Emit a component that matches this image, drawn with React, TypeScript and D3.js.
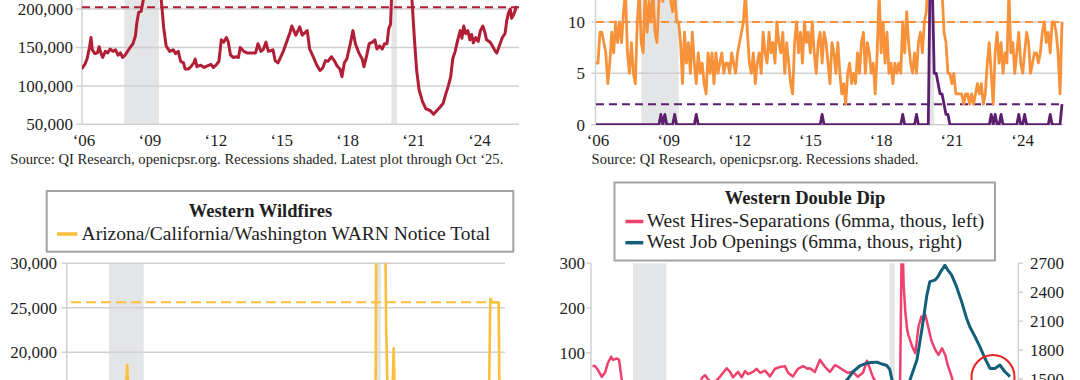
import React from "react";
import * as d3 from "d3";

const FONT = "'Liberation Serif', 'Times New Roman', serif";

// ---------- shared ----------
const recessions: [number, number][] = [[2007.92, 2009.5], [2020.08, 2020.33]];
const tickYears = [2006, 2009, 2012, 2015, 2018, 2021, 2024];

// ---------- panel 1 (top-left): West WARN notices, thousands ----------
const warnWest: [number, number][] = [
  [2006.00,123],[2006.13,128],[2006.23,135],[2006.34,150],[2006.41,163],[2006.47,147],[2006.59,142],[2006.70,143],[2006.78,151],[2006.86,143],[2006.94,137],[2007.06,145],[2007.17,143],[2007.28,148],[2007.41,145],[2007.53,147],[2007.64,140],[2007.75,143],[2007.85,137],[2007.96,140],[2008.07,145],[2008.19,150],[2008.32,155],[2008.43,165],[2008.50,183],[2008.58,196],[2008.69,197],[2008.79,212],[2008.90,230],[2009.05,250],[2009.21,262],[2009.36,258],[2009.52,235],[2009.63,205],[2009.72,175],[2009.83,152],[2009.99,145],[2010.15,147],[2010.26,142],[2010.38,145],[2010.49,132],[2010.62,130],[2010.69,122],[2010.85,122],[2010.98,126],[2011.09,130],[2011.15,135],[2011.23,125],[2011.40,127],[2011.56,124],[2011.71,126],[2011.87,128],[2011.98,124],[2012.10,127],[2012.23,132],[2012.34,160],[2012.45,157],[2012.57,163],[2012.65,158],[2012.76,140],[2012.89,137],[2013.01,138],[2013.12,137],[2013.20,150],[2013.36,145],[2013.51,143],[2013.75,143],[2013.90,143],[2014.01,155],[2014.14,145],[2014.26,148],[2014.37,157],[2014.48,145],[2014.69,147],[2014.79,133],[2014.92,130],[2015.16,145],[2015.31,157],[2015.47,170],[2015.55,178],[2015.67,170],[2015.73,166],[2015.91,177],[2016.02,166],[2016.25,172],[2016.36,148],[2016.49,140],[2016.67,128],[2016.83,120],[2016.95,123],[2017.08,133],[2017.19,132],[2017.35,138],[2017.50,132],[2017.61,126],[2017.74,122],[2017.83,112],[2017.94,130],[2018.05,135],[2018.21,155],[2018.33,172],[2018.44,155],[2018.60,143],[2018.75,135],[2018.83,125],[2018.96,140],[2019.07,155],[2019.22,157],[2019.33,160],[2019.42,148],[2019.54,152],[2019.66,148],[2019.77,155],[2019.88,155],[2019.96,175],[2020.04,180],[2020.12,240],[2020.24,330],[2020.40,420],[2020.60,380],[2020.80,300],[2020.95,260],[2021.02,210],[2021.13,160],[2021.23,120],[2021.34,95],[2021.49,80],[2021.65,70],[2021.84,68],[2022.00,63],[2022.12,67],[2022.28,72],[2022.43,77],[2022.54,88],[2022.67,100],[2022.78,112],[2022.87,135],[2022.98,145],[2023.10,160],[2023.21,172],[2023.29,162],[2023.37,178],[2023.46,168],[2023.56,172],[2023.65,160],[2023.73,167],[2023.81,156],[2023.92,163],[2024.03,158],[2024.13,172],[2024.24,178],[2024.33,170],[2024.41,160],[2024.57,157],[2024.68,152],[2024.81,145],[2024.88,143],[2024.99,152],[2025.13,163],[2025.25,168],[2025.33,185],[2025.41,195],[2025.49,200],[2025.55,188],[2025.63,192],[2025.71,198],[2025.75,202.5]
];
const warnWestLatest = 202.5;
const warnTicks = [50, 100, 150, 200];

// ---------- panel 2 (top-right): monthly counts Jan 2006 - Oct 2025 ----------
const orangeCounts = [
  6,6,9,9,8,7,4,6,9,7,10,8,10,8,11,13,7,5,8,5,
  4,10,13,8,7,13,9,12,10,13,9,8,12,14,12,14,13,15,12,11,
  13,10,10,8,4,9,6,8,5,9,6,4,7,5,6,4,3,7,5,7,
  4,7,5,6,7,5,6,6,5,7,6,5,7,8,9,10,13,9,6,5,
  7,4,6,7,5,9,7,6,9,7,8,6,10,8,7,9,5,8,6,4,
  3,8,10,7,9,6,10,8,9,7,10,7,5,8,9,6,9,8,6,4,
  8,7,5,8,5,3,4,2,5,6,4,5,4,7,5,8,9,5,8,7,
  5,6,3,7,13,7,10,6,9,5,6,4,6,5,6,5,10,7,11,8,
  6,5,7,5,8,9,7,10,11,15,18,20,17,15,14,13,13,9,8,5,
  5,4,5,3,3,3,3,2,3,3,2,3,2,3,4,3,4,2,3,6,
  8,5,2,7,9,6,8,5,7,6,13,7,8,5,7,9,6,5,7,9,
  8,5,6,7,7,6,7,9,10,8,9,7,10,10,9,7,3,10
];
const purpleCounts = [
  0,0,0,0,0,0,0,0,0,0,0,0,0,0,0,0,0,0,0,0,
  0,0,0,0,0,0,0,0,0,0,0,0,0,1,0,1,0,0,0,0,
  1,0,0,0,0,0,0,0,0,0,0,1,0,0,0,0,0,0,0,0,
  0,0,0,0,0,0,0,0,0,0,0,0,0,0,0,0,0,0,0,0,
  0,0,0,0,0,0,0,0,0,0,0,0,0,0,0,0,0,0,0,0,
  0,0,0,0,0,0,0,0,0,0,0,0,0,0,0,1,0,0,0,0,
  0,0,0,0,0,0,0,0,0,0,0,0,0,0,0,0,0,0,0,0,
  0,0,0,0,0,0,0,0,0,0,0,0,0,0,0,0,1,0,0,0,
  0,0,0,1,0,0,0,0,0,0,16,14,5,5,4,3,3,2,1,1,
  0,0,0,0,0,0,0,0,0,0,0,0,0,0,0,0,0,0,0,0,
  0,1,0,1,0,0,1,0,0,0,0,0,0,0,0,1,0,0,1,0,
  0,0,0,0,0,0,0,0,0,0,0,1,0,0,0,0,0,2
];
const orangeRef = 10;
const purpleRef = 2;
const countTicks = [0, 5, 10];

// ---------- panel 3 (bottom-left): wildfire WARN total ----------
const wildfire: [number, number][] = [
  [2006.0,9000],[2006.5,8500],[2007.0,9500],[2007.5,10000],[2008.0,11000],[2008.5,13000],[2008.67,15000],[2008.75,18570],[2008.83,14000],[2009.0,16000],[2009.25,14000],[2009.5,12000],[2010.0,9000],[2011.0,8000],[2012.0,8000],[2013.0,7500],[2014.0,7500],[2015.0,8000],[2016.0,8500],[2017.0,8000],[2018.0,8000],[2019.0,9000],[2020.0,9500],[2020.08,10000],[2020.17,60000],[2020.25,85000],[2020.33,70000],[2020.42,45000],[2020.5,40000],[2020.58,22100],[2020.67,12000],[2020.75,11000],[2020.83,12500],[2020.92,20450],[2021.0,11000],[2021.5,7000],[2022.0,6000],[2022.5,7000],[2023.0,11000],[2023.5,10000],[2024.0,9500],[2024.5,9000],[2025.0,10000],[2025.25,11000],[2025.33,26000],[2025.42,25630],[2025.71,25630],[2025.76,12000]
];
const wildfireLatest = 25630;
const wildfireTicks = [20000, 25000, 30000];

// ---------- panel 4 (bottom-right): Western Double Dip ----------
const hiresSeps: [number, number][] = [
  [2006.0,70],[2006.12,70],[2006.26,61],[2006.44,46],[2006.59,55],[2006.73,77],[2006.88,91],[2006.97,84],[2007.15,87],[2007.26,84],[2007.40,35],[2007.54,10],[2008.0,-50],[2009.0,-150],[2010.0,-20],[2010.8,20],[2011.09,25],[2011.18,43],[2011.33,50],[2011.47,41],[2011.71,30],[2012.04,46],[2012.36,65],[2012.52,57],[2012.66,45],[2012.90,57],[2013.07,45],[2013.23,59],[2013.37,52],[2013.61,57],[2013.78,64],[2013.94,55],[2014.18,60],[2014.41,47],[2014.65,64],[2014.89,68],[2015.12,70],[2015.27,55],[2015.50,47],[2015.74,64],[2015.98,70],[2016.21,64],[2016.31,65],[2016.54,57],[2016.78,84],[2017.01,69],[2017.25,57],[2017.49,72],[2017.63,69],[2017.86,62],[2018.10,55],[2018.34,57],[2018.58,46],[2018.82,55],[2019.01,82],[2019.15,64],[2019.29,46],[2019.48,30],[2019.72,25],[2019.95,20],[2020.19,-300],[2020.43,-100],[2020.58,30],[2020.67,400],[2020.75,250],[2020.83,190],[2020.92,150],[2020.97,140],[2021.16,113],[2021.30,99],[2021.45,158],[2021.59,181],[2021.68,173],[2021.78,184],[2021.91,158],[2022.06,128],[2022.25,106],[2022.40,95],[2022.57,110],[2022.72,95],[2022.84,72],[2023.00,50],[2023.09,35],[2023.3,25],[2024.0,20],[2025.0,10],[2025.58,38]
];
const jobOpenings: [number, number][] = [
  [2006.0,1250],[2008.0,1200],[2009.5,800],[2011.0,900],[2014.0,1150],[2017.0,1350],[2017.87,1450],[2018.10,1500],[2018.34,1575],[2018.67,1635],[2019.00,1665],[2019.24,1670],[2019.48,1675],[2019.72,1655],[2019.95,1640],[2020.09,1600],[2020.24,1450],[2020.43,1250],[2020.81,1300],[2021.05,1490],[2021.38,1700],[2021.61,2010],[2021.85,2370],[2021.99,2510],[2022.23,2525],[2022.37,2560],[2022.55,2630],[2022.71,2680],[2022.84,2630],[2023.02,2580],[2023.26,2455],[2023.50,2300],[2023.73,2130],[2023.89,2040],[2024.13,1940],[2024.36,1835],[2024.60,1715],[2024.84,1610],[2025.07,1610],[2025.31,1645],[2025.55,1575],[2025.79,1525]
];
const leftTicks = [100, 200, 300];
const rightTicks = [1500, 1800, 2100, 2400, 2700];

const SHADE = "#e4e5e7";
const GRID = "#cfd0d2";
const TEXT = "#1e1e1e";

const yearLabel = (y: number) => "\u2018" + String(y).slice(2);

export default function App() {
  // panel 1 scales
  const x1 = d3.scaleLinear().domain([2006, 2025.75]).range([82, 516]);
  const y1 = d3.scaleLinear().domain([50, 200]).range([124.3, 9.1]);
  const line1 = d3.line<[number, number]>().x(d => x1(d[0])).y(d => y1(d[1]));

  // panel 2
  const x2 = d3.scaleLinear().domain([2006, 2025.75]).range([596, 1062]);
  const y2 = d3.scaleLinear().domain([0, 10]).range([124.7, 22]);
  const line2 = d3.line<number>().x((_, i) => x2(2006 + i / 12)).y(d => y2(d));

  // panel 3
  const x3 = d3.scaleLinear().domain([2006, 2025.75]).range([67, 499.5]);
  const y3 = d3.scaleLinear().domain([20000, 30000]).range([352.3, 263.3]);
  const line3 = d3.line<[number, number]>().x(d => x3(d[0])).y(d => y3(d[1]));

  // panel 4
  const x4 = d3.scaleLinear().domain([2006, 2025.79]).range([592.5, 1010]);
  const y4L = d3.scaleLinear().domain([100, 300]).range([352.7, 263.3]);
  const y4R = d3.scaleLinear().domain([1500, 2700]).range([379, 263.3]);
  const line4L = d3.line<[number, number]>().x(d => x4(d[0])).y(d => y4L(d[1]));
  const line4R = d3.line<[number, number]>().x(d => x4(d[0])).y(d => y4R(d[1]));

  const fmt = d3.format(",");

  return (
    <svg width={1080} height={380} viewBox="0 0 1080 380"
      style={{ position: "absolute", left: 0, top: 0, display: "block", background: "#fff" }}
      fontFamily={FONT}>
      <defs>
        <clipPath id="c1"><rect x={82} y={-40} width={440} height={164.3} /></clipPath>
        <clipPath id="c2"><rect x={595} y={-40} width={470} height={165} /></clipPath>
        <clipPath id="c3"><rect x={66} y={263.3} width={440} height={140} /></clipPath>
        <clipPath id="c4"><rect x={591} y={263.3} width={428} height={140} /></clipPath>
      </defs>
      <rect x={0} y={0} width={1080} height={380} fill="#fff" />

      {/* ================= Panel 1 ================= */}
      <g>
        {recessions.map((r, i) => (
          <rect key={i} x={x1(r[0])} y={-40} width={x1(r[1]) - x1(r[0])} height={y1(50) + 40} fill={SHADE} />
        ))}
        {warnTicks.map(t => (
          <line key={t} x1={76} x2={519} y1={y1(t)} y2={y1(t)} stroke={GRID} strokeWidth={1.5} />
        ))}
        <line x1={x1(2006)} x2={x1(2006)} y1={-40} y2={y1(50)} stroke={GRID} strokeWidth={1.5} />
        {warnTicks.map(t => (
          <text key={t} x={73} y={y1(t)} dy="0.35em" textAnchor="end" fontSize={17} fill={TEXT}>{fmt(t * 1000)}</text>
        ))}
        {tickYears.map(t => (
          <text key={t} x={x1(t) + 2} y={146} textAnchor="middle" fontSize={17} fill={TEXT}>{yearLabel(t)}</text>
        ))}
        <g clipPath="url(#c1)">
          <line x1={x1(2006)} x2={519} y1={y1(warnWestLatest)} y2={y1(warnWestLatest)} stroke="#b21e35" strokeWidth={2} strokeDasharray="8,5" />
          <path d={line1(warnWest) || ""} fill="none" stroke="#b21e35" strokeWidth={3} strokeLinejoin="round" strokeLinecap="round" />
        </g>
        <text x={10.3} y={164} fontSize={14.6} fill={TEXT}>Source: QI Research, openicpsr.org. Recessions shaded. Latest plot through Oct {"\u2018"}25.</text>
      </g>

      {/* ================= Panel 2 ================= */}
      <g>
        {recessions.map((r, i) => (
          <rect key={i} x={x2(r[0])} y={-40} width={x2(r[1]) - x2(r[0])} height={y2(0) + 40} fill={SHADE} />
        ))}
        {countTicks.map(t => (
          <line key={t} x1={591.5} x2={1063} y1={y2(t)} y2={y2(t)} stroke={GRID} strokeWidth={1.5} />
        ))}
        <line x1={595.5} x2={595.5} y1={-40} y2={y2(0)} stroke={GRID} strokeWidth={1.5} />
        {countTicks.map(t => (
          <text key={t} x={585} y={y2(t)} dy="0.35em" textAnchor="end" fontSize={17} fill={TEXT}>{t}</text>
        ))}
        {tickYears.map(t => (
          <text key={t} x={x2(t) + 2} y={146} textAnchor="middle" fontSize={17} fill={TEXT}>{yearLabel(t)}</text>
        ))}
        <g clipPath="url(#c2)">
          <line x1={596} x2={1063} y1={y2(orangeRef)} y2={y2(orangeRef)} stroke="#f7923a" strokeWidth={2} strokeDasharray="8,5" />
          <line x1={596} x2={1063} y1={y2(purpleRef)} y2={y2(purpleRef)} stroke="#5c1f6e" strokeWidth={2} strokeDasharray="8,5" />
          <path d={line2(orangeCounts) || ""} fill="none" stroke="#f7923a" strokeWidth={2.8} strokeLinejoin="round" />
          <path d={line2(purpleCounts) || ""} fill="none" stroke="#5c1f6e" strokeWidth={2.8} strokeLinejoin="round" />
        </g>
        <text x={591.6} y={164} fontSize={14.6} fill={TEXT}>Source: QI Research, openicpsr.org. Recessions shaded.</text>
      </g>

      {/* ================= Panel 3 ================= */}
      <g>
        {recessions.map((r, i) => (
          <rect key={i} x={x3(r[0])} y={y3(30000)} width={x3(r[1]) - x3(r[0])} height={140} fill={SHADE} />
        ))}
        {wildfireTicks.map(t => (
          <line key={t} x1={61.7} x2={505} y1={y3(t)} y2={y3(t)} stroke={GRID} strokeWidth={1.5} />
        ))}
        <line x1={66.7} x2={66.7} y1={y3(30000)} y2={400} stroke={GRID} strokeWidth={1.5} />
        {wildfireTicks.map(t => (
          <text key={t} x={57} y={y3(t)} dy="0.35em" textAnchor="end" fontSize={17} fill={TEXT}>{fmt(t)}</text>
        ))}
        <g clipPath="url(#c3)">
          <line x1={71} x2={x3(2025.71)} y1={y3(wildfireLatest)} y2={y3(wildfireLatest)} stroke="#fbbf3c" strokeWidth={2} strokeDasharray="10,5" />
          <path d={line3(wildfire) || ""} fill="none" stroke="#fbbf3c" strokeWidth={2.6} strokeLinejoin="round" />
        </g>
        <rect x={46.7} y={191} width={466.6} height={60.7} fill="#fff" stroke="#a3a3a3" strokeWidth={2} />
        <text x={260.4} y={216.5} textAnchor="middle" fontSize={18.5} fontWeight="bold" fill={TEXT}>Western Wildfires</text>
        <line x1={57} x2={77.5} y1={234} y2={234} stroke="#fbbf3c" strokeWidth={3.5} />
        <text x={81.6} y={240} fontSize={19.5} fill={TEXT}>Arizona/California/Washington WARN Notice Total</text>
      </g>

      {/* ================= Panel 4 ================= */}
      <g>
        {recessions.map((r, i) => (
          <rect key={i} x={x4(r[0])} y={263.3} width={x4(r[1]) - x4(r[0])} height={140} fill={SHADE} />
        ))}
        <line x1={591} x2={591} y1={263.3} y2={400} stroke={GRID} strokeWidth={1.5} />
        <line x1={1018.3} x2={1018.3} y1={263.3} y2={400} stroke={GRID} strokeWidth={1.5} />
        {leftTicks.map(t => (
          <g key={t}>
            <line x1={586.5} x2={591} y1={y4L(t)} y2={y4L(t)} stroke={GRID} strokeWidth={1.5} />
            <text x={585} y={y4L(t)} dy="0.35em" textAnchor="end" fontSize={17} fill={TEXT}>{t}</text>
          </g>
        ))}
        {rightTicks.map(t => (
          <g key={t}>
            <line x1={1018.3} x2={1023} y1={y4R(t)} y2={y4R(t)} stroke={GRID} strokeWidth={1.5} />
            <text x={1030} y={y4R(t)} dy="0.35em" textAnchor="start" fontSize={17} fill={TEXT}>{t}</text>
          </g>
        ))}
        <g clipPath="url(#c4)">
          <path d={line4L(hiresSeps) || ""} fill="none" stroke="#ef416c" strokeWidth={2.5} strokeLinejoin="round" />
          <path d={line4R(jobOpenings) || ""} fill="none" stroke="#135f79" strokeWidth={3} strokeLinejoin="round" />
        </g>
        <ellipse cx={993} cy={377} rx={21.5} ry={22} fill="none" stroke="#e8231f" strokeWidth={2} />
        <rect x={614.5} y={182.5} width={380.5} height={78} fill="#fff" stroke="#a3a3a3" strokeWidth={2} />
        <text x={805} y={204} textAnchor="middle" fontSize={18.5} fontWeight="bold" fill={TEXT}>Western Double Dip</text>
        <line x1={625.4} x2={643.3} y1={221.5} y2={221.5} stroke="#ef416c" strokeWidth={3.5} />
        <text x={646.7} y={226.5} fontSize={19.5} fill={TEXT}>West Hires-Separations (6mma, thous, left)</text>
        <line x1={625.4} x2={643.3} y1={242.7} y2={242.7} stroke="#135f79" strokeWidth={3.5} />
        <text x={646.7} y={247.7} fontSize={19.5} fill={TEXT}>West Job Openings (6mma, thous, right)</text>
      </g>
    </svg>
  );
}
